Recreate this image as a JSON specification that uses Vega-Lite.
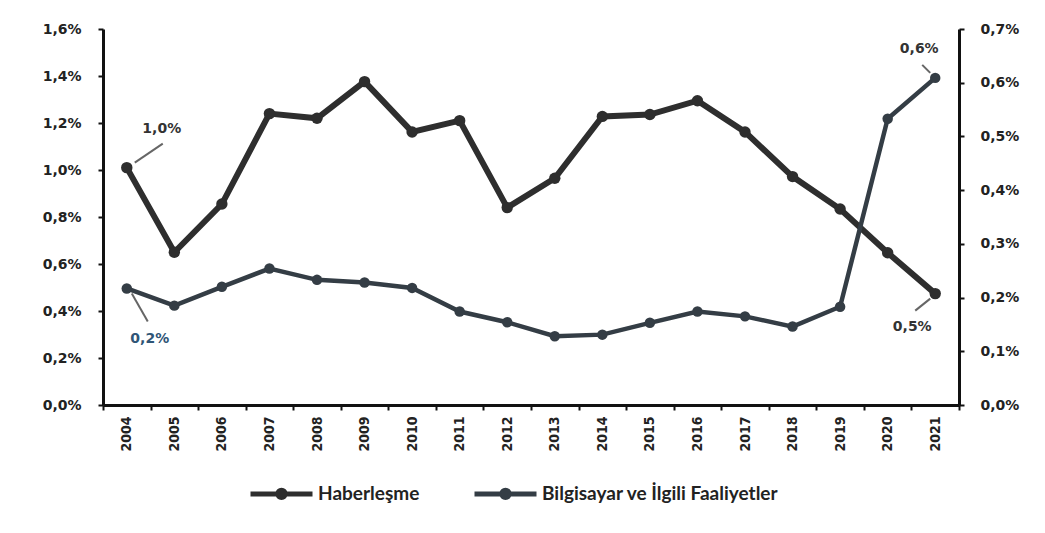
{
  "$schema": "https://vega.github.io/schema/vega-lite/v6.json",
  "width": 856,
  "height": 376,
  "autosize": {"type": "none"},
  "padding": {"left": 103, "top": 29, "right": 86, "bottom": 128},
  "background": "white",
  "config": {
    "view": {"stroke": null},
    "font": "DejaVu Sans",
    "locale": {"number": {"decimal": ",", "thousands": ".", "grouping": [3], "currency": ["₺", ""]}}
  },
  "data": {"values": [
    {"year": "2004", "series": "Haberleşme", "value": 0.0101},
    {"year": "2005", "series": "Haberleşme", "value": 0.0065},
    {"year": "2006", "series": "Haberleşme", "value": 0.00855},
    {"year": "2007", "series": "Haberleşme", "value": 0.0124},
    {"year": "2008", "series": "Haberleşme", "value": 0.0122},
    {"year": "2009", "series": "Haberleşme", "value": 0.01376},
    {"year": "2010", "series": "Haberleşme", "value": 0.01162},
    {"year": "2011", "series": "Haberleşme", "value": 0.0121},
    {"year": "2012", "series": "Haberleşme", "value": 0.0084},
    {"year": "2013", "series": "Haberleşme", "value": 0.00965},
    {"year": "2014", "series": "Haberleşme", "value": 0.01228},
    {"year": "2015", "series": "Haberleşme", "value": 0.01236},
    {"year": "2016", "series": "Haberleşme", "value": 0.01295},
    {"year": "2017", "series": "Haberleşme", "value": 0.01162},
    {"year": "2018", "series": "Haberleşme", "value": 0.00972},
    {"year": "2019", "series": "Haberleşme", "value": 0.00834},
    {"year": "2020", "series": "Haberleşme", "value": 0.00648},
    {"year": "2021", "series": "Haberleşme", "value": 0.00474},
    {"year": "2004", "series": "Bilgisayar ve İlgili Faaliyetler", "value": 0.00217},
    {"year": "2005", "series": "Bilgisayar ve İlgili Faaliyetler", "value": 0.00185},
    {"year": "2006", "series": "Bilgisayar ve İlgili Faaliyetler", "value": 0.0022},
    {"year": "2007", "series": "Bilgisayar ve İlgili Faaliyetler", "value": 0.00254},
    {"year": "2008", "series": "Bilgisayar ve İlgili Faaliyetler", "value": 0.00233},
    {"year": "2009", "series": "Bilgisayar ve İlgili Faaliyetler", "value": 0.00228},
    {"year": "2010", "series": "Bilgisayar ve İlgili Faaliyetler", "value": 0.00218},
    {"year": "2011", "series": "Bilgisayar ve İlgili Faaliyetler", "value": 0.00174},
    {"year": "2012", "series": "Bilgisayar ve İlgili Faaliyetler", "value": 0.00154},
    {"year": "2013", "series": "Bilgisayar ve İlgili Faaliyetler", "value": 0.00128},
    {"year": "2014", "series": "Bilgisayar ve İlgili Faaliyetler", "value": 0.00131},
    {"year": "2015", "series": "Bilgisayar ve İlgili Faaliyetler", "value": 0.00153},
    {"year": "2016", "series": "Bilgisayar ve İlgili Faaliyetler", "value": 0.00174},
    {"year": "2017", "series": "Bilgisayar ve İlgili Faaliyetler", "value": 0.00165},
    {"year": "2018", "series": "Bilgisayar ve İlgili Faaliyetler", "value": 0.00146},
    {"year": "2019", "series": "Bilgisayar ve İlgili Faaliyetler", "value": 0.00183},
    {"year": "2020", "series": "Bilgisayar ve İlgili Faaliyetler", "value": 0.00533},
    {"year": "2021", "series": "Bilgisayar ve İlgili Faaliyetler", "value": 0.00609}
  ]},
  "encoding": {
    "x": {
      "field": "year", "type": "ordinal",
      "scale": {"paddingInner": 0, "paddingOuter": 0},
      "axis": {
        "title": null, "labelAngle": -90, "labelAlign": "right", "labelBaseline": "middle",
        "labelFont": "DejaVu Sans Condensed", "labelFontWeight": "bold", "labelFontSize": 14,
        "labelColor": "#222", "labelPadding": 6,
        "domainColor": "#111", "domainWidth": 3, "tickColor": "#111", "tickWidth": 2, "tickSize": 5,
        "tickBand": "extent", "grid": false
      }
    },
    "color": {
      "field": "series", "type": "nominal",
      "scale": {"domain": ["Haberleşme", "Bilgisayar ve İlgili Faaliyetler"], "range": ["#2e2e2e", "#343d45"]},
      "legend": {
        "title": null, "orient": "none", "legendX": 145, "legendY": 431, "direction": "horizontal",
        "symbolType": "M-1,0L1,0M-0.12,0A0.12,0.12,0,1,1,0.12,0A0.12,0.12,0,1,1,-0.12,0Z",
        "symbolSize": 3844, "symbolStrokeWidth": 5, "symbolFillColor": "#2e2e2e",
        "labelFont": "Lato", "labelFontWeight": "bold", "labelFontSize": 19, "labelColor": "#222",
        "labelOffset": 3, "columnPadding": 44, "labelLimit": 0
      }
    }
  },
  "layer": [
    {
      "transform": [{"filter": "datum.series === 'Haberleşme'"}],
      "encoding": {
        "y": {
          "field": "value", "type": "quantitative",
          "scale": {"domain": [0, 0.016]},
          "axis": {
            "orient": "left", "title": null, "grid": false, "format": ".1%",
            "values": [0, 0.002, 0.004, 0.006, 0.008, 0.01, 0.012, 0.014, 0.016],
            "domainColor": "#111", "domainWidth": 3, "tickColor": "#111", "tickWidth": 2, "tickSize": 5,
            "labelFontSize": 14, "labelFontWeight": "bold", "labelColor": "#222", "labelPadding": 17
          }
        }
      },
      "layer": [
        {"mark": {"type": "line", "strokeWidth": 6}},
        {"mark": {"type": "point", "filled": true, "size": 130, "opacity": 1}},
        {
          "transform": [{"filter": "datum.year === '2004'"}],
          "mark": {"type": "text", "dx": 35, "dy": -39, "fontSize": 14, "fontWeight": "bold"},
          "encoding": {"text": {"field": "value", "format": ".1%"}, "color": {"value": "#333"}}
        },
        {
          "transform": [{"filter": "datum.year === '2021'"}],
          "mark": {"type": "text", "dx": -23, "dy": 33, "fontSize": 14, "fontWeight": "bold"},
          "encoding": {"text": {"field": "value", "format": ".1%"}, "color": {"value": "#333"}}
        },
        {
          "transform": [{"filter": "datum.year === '2004'"}],
          "mark": {"type": "rule", "strokeWidth": 2, "xOffset": 8, "yOffset": -5, "x2Offset": 36, "y2Offset": -24},
          "encoding": {"x2": {"field": "year"}, "y2": {"field": "value"}, "color": {"value": "#666"}}
        },
        {
          "transform": [{"filter": "datum.year === '2021'"}],
          "mark": {"type": "rule", "strokeWidth": 2, "xOffset": -5, "yOffset": 5, "x2Offset": -20, "y2Offset": 17},
          "encoding": {"x2": {"field": "year"}, "y2": {"field": "value"}, "color": {"value": "#666"}}
        }
      ]
    },
    {
      "transform": [{"filter": "datum.series !== 'Haberleşme'"}],
      "encoding": {
        "y": {
          "field": "value", "type": "quantitative",
          "scale": {"domain": [0, 0.007]},
          "axis": {
            "orient": "right", "title": null, "grid": false, "format": ".1%",
            "values": [0, 0.001, 0.002, 0.003, 0.004, 0.005, 0.006, 0.007],
            "domainColor": "#111", "domainWidth": 3, "tickColor": "#111", "tickWidth": 2, "tickSize": 5,
            "labelFontSize": 14, "labelFontWeight": "bold", "labelColor": "#222", "labelPadding": 16
          }
        }
      },
      "layer": [
        {"mark": {"type": "line", "strokeWidth": 4.5}},
        {"mark": {"type": "point", "filled": true, "size": 110, "opacity": 1}},
        {
          "transform": [{"filter": "datum.year === '2004'"}],
          "mark": {"type": "text", "dx": 23, "dy": 51, "fontSize": 14, "fontWeight": "bold"},
          "encoding": {"text": {"field": "value", "format": ".1%"}, "color": {"value": "#2f5576"}}
        },
        {
          "transform": [{"filter": "datum.year === '2021'"}],
          "mark": {"type": "text", "dx": -16, "dy": -29, "fontSize": 14, "fontWeight": "bold"},
          "encoding": {"text": {"field": "value", "format": ".1%"}, "color": {"value": "#333"}}
        },
        {
          "transform": [{"filter": "datum.year === '2004'"}],
          "mark": {"type": "rule", "strokeWidth": 2, "xOffset": 5, "yOffset": 5, "x2Offset": 21, "y2Offset": 33},
          "encoding": {"x2": {"field": "year"}, "y2": {"field": "value"}, "color": {"value": "#666"}}
        },
        {
          "transform": [{"filter": "datum.year === '2021'"}],
          "mark": {"type": "rule", "strokeWidth": 2, "xOffset": -5, "yOffset": -5, "x2Offset": -13, "y2Offset": -13},
          "encoding": {"x2": {"field": "year"}, "y2": {"field": "value"}, "color": {"value": "#666"}}
        }
      ]
    }
  ],
  "resolve": {"scale": {"y": "independent"}}
}
